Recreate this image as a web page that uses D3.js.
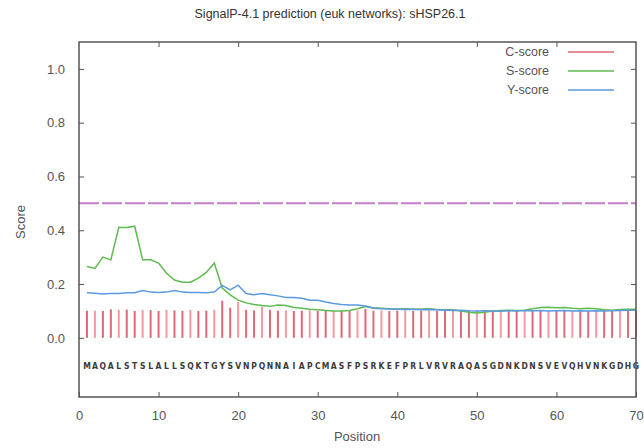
<!DOCTYPE html>
<html><head><meta charset="utf-8">
<script src="https://cdn.jsdelivr.net/npm/d3@7"></script>
<style>
body{margin:0;background:#fff;}
svg{display:block;font-family:"Liberation Sans",Arial,sans-serif;}
</style></head>
<body>
<svg id="chart" width="644" height="448"></svg>
<script>
const sequence = "MAQALSTSLALLSQKTGYSVNPQNNAIAPCMASFPSRKEFPRLVRVRAQASGDNKDNSVEVQHVNKGDHG".split("");
const positions = d3.range(1, 71);
const cScore = [0.101,0.101,0.100,0.106,0.104,0.105,0.100,0.104,0.103,0.100,0.104,0.102,0.101,0.104,0.100,0.101,0.104,0.138,0.112,0.134,0.104,0.102,0.116,0.104,0.101,0.102,0.100,0.101,0.102,0.100,
0.101,0.102,0.100,0.101,0.102,0.107,0.101,0.102,0.100,0.101,0.102,0.100,0.101,0.102,0.100,0.101,0.102,0.100,0.101,0.100,0.101,0.102,0.100,0.101,0.100,0.101,0.102,0.100,0.101,0.102,
0.100,0.101,0.102,0.100,0.101,0.102,0.100,0.101,0.102,0.102];
const sScore = [0.265,0.258,0.300,0.290,0.410,0.410,0.415,0.290,0.290,0.278,0.240,0.215,0.207,0.207,0.222,0.243,0.278,0.185,0.160,0.140,0.130,0.124,0.120,0.117,0.122,0.120,0.113,0.110,0.106,0.104,
0.102,0.100,0.100,0.102,0.108,0.116,0.112,0.110,0.108,0.107,0.108,0.106,0.107,0.108,0.105,0.104,0.104,0.100,0.095,0.092,0.095,0.100,0.102,0.103,0.102,0.103,0.108,0.113,0.114,0.112,
0.113,0.110,0.108,0.110,0.108,0.104,0.103,0.105,0.106,0.106];
const yScore = [0.168,0.166,0.163,0.165,0.165,0.168,0.168,0.176,0.170,0.169,0.170,0.176,0.170,0.169,0.169,0.168,0.170,0.195,0.178,0.196,0.165,0.160,0.165,0.160,0.156,0.150,0.150,0.147,0.140,0.140,
0.133,0.128,0.124,0.122,0.122,0.118,0.110,0.108,0.107,0.106,0.105,0.106,0.104,0.105,0.104,0.103,0.102,0.103,0.101,0.100,0.101,0.100,0.099,0.101,0.100,0.102,0.101,0.102,0.100,0.101,
0.102,0.100,0.101,0.100,0.101,0.100,0.101,0.102,0.103,0.103];
const threshold = 0.5;
const xTicks = [0,10,20,30,40,50,60,70];
const yTicks = [0.0,0.2,0.4,0.6,0.8,1.0];
const legendLabels = ["C-score","S-score","Y-score"];
const colors = {c:"#dc6a76", s:"#5dbb4f", y:"#5b9ae0", t:"#c47ecb"};

const svg = d3.select("#chart");
const L=79, R=636, T=42, B=397;
const x = d3.scaleLinear().domain([0,70]).range([L,R]);
const y = d3.scaleLinear().domain([-0.22,1.1]).range([B,T]);

// title
svg.append("text").attr("x",330).attr("y",18).attr("text-anchor","middle")
  .attr("font-size",12.5).attr("fill","#333").text("SignalP-4.1 prediction (euk networks): sHSP26.1");

// threshold
svg.append("line").attr("x1",x(0)).attr("x2",x(70)).attr("y1",y(threshold)).attr("y2",y(threshold))
  .attr("stroke",colors.t).attr("stroke-width",2).attr("stroke-dasharray","20,3");

// C-score bars
svg.append("g").selectAll("line").data(positions).join("line")
  .attr("x1",d=>x(d)).attr("x2",d=>x(d))
  .attr("y1",y(0)).attr("y2",(d,i)=>y(cScore[i]))
  .attr("stroke",(d,i)=> i%3===1 ? "#f19aa2" : colors.c).attr("stroke-width",2);

// lines
const lineGen = arr => d3.line().x((d)=>x(d)).y((d,i)=>y(arr[i]))(positions);
svg.append("path").attr("d",lineGen(sScore)).attr("fill","none").attr("stroke",colors.s).attr("stroke-width",1.5);
svg.append("path").attr("d",lineGen(yScore)).attr("fill","none").attr("stroke",colors.y).attr("stroke-width",1.5);

// sequence
svg.append("g").selectAll("text").data(sequence).join("text")
  .attr("x",(d,i)=>x(i+1)).attr("y",369).attr("text-anchor","middle")
  .attr("font-size",8.5).attr("font-weight","bold").attr("fill","#3a3a3a")
  .attr("font-family","'Liberation Sans Narrow','DejaVu Sans Condensed',sans-serif")
  .text(d=>d);

// frame
svg.append("rect").attr("x",L).attr("y",T).attr("width",R-L).attr("height",B-T)
  .attr("fill","none").attr("stroke","#555").attr("stroke-width",1.5);

// axes
const tl = 5;
svg.append("g").attr("transform",`translate(0,${B})`)
  .call(d3.axisBottom(x).tickValues(xTicks).tickSize(-tl).tickPadding(14).tickFormat(d3.format("d")))
  .call(g=>{g.select(".domain").remove(); g.selectAll("line").attr("stroke","#555");
    g.selectAll("text").attr("font-size",13).attr("fill","#555").attr("font-family","'Liberation Sans',Arial,sans-serif");});
svg.append("g").attr("transform",`translate(0,${T})`)
  .call(d3.axisTop(x).tickValues(xTicks.slice(1,-1)).tickSize(-tl).tickFormat(""))
  .call(g=>{g.select(".domain").remove(); g.selectAll("line").attr("stroke","#555");});
svg.append("g").attr("transform",`translate(${L},0)`)
  .call(d3.axisLeft(y).tickValues(yTicks).tickSize(-tl).tickPadding(14).tickFormat(d3.format(".1f")))
  .call(g=>{g.select(".domain").remove(); g.selectAll("line").attr("stroke","#555");
    g.selectAll("text").attr("font-size",13).attr("fill","#555").attr("font-family","'Liberation Sans',Arial,sans-serif");});
svg.append("g").attr("transform",`translate(${R},0)`)
  .call(d3.axisRight(y).tickValues(yTicks).tickSize(-tl).tickFormat(""))
  .call(g=>{g.select(".domain").remove(); g.selectAll("line").attr("stroke","#555");});

// axis titles
svg.append("text").attr("x",357).attr("y",441).attr("text-anchor","middle")
  .attr("font-size",13).attr("fill","#555").text("Position");
svg.append("text").attr("transform","translate(25,222) rotate(-90)").attr("text-anchor","middle")
  .attr("font-size",13).attr("fill","#555").text("Score");

// legend
const legColors = [colors.c, colors.s, colors.y];
const leg = svg.append("g");
legendLabels.forEach((lab,i)=>{
  const yy = 52 + i*19;
  leg.append("text").attr("x",549).attr("y",yy+4).attr("text-anchor","end")
    .attr("font-size",12.5).attr("fill","#555").text(lab);
  leg.append("line").attr("x1",568).attr("x2",614).attr("y1",yy).attr("y2",yy)
    .attr("stroke",legColors[i]).attr("stroke-width",1.5);
});
</script>
</body></html>
